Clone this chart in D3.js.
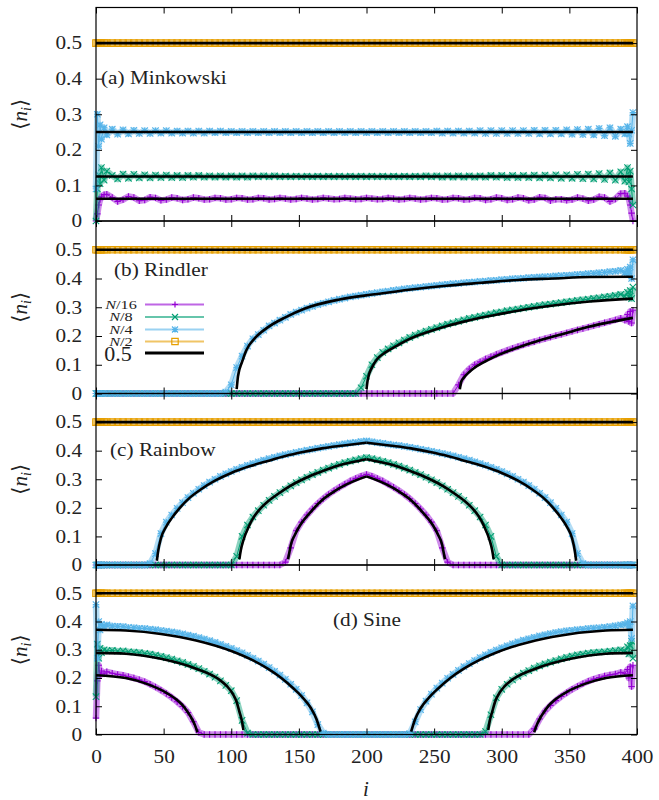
<!DOCTYPE html>
<html>
<head>
<meta charset="utf-8">
<script src="https://cdnjs.cloudflare.com/ajax/libs/d3/7.8.5/d3.min.js"></script>
<style>
body { margin: 0; background: #fff; }
svg text { font-family: "Liberation Serif", "DejaVu Serif", serif; fill: #222; }
</style>
</head>
<body>
<svg id="svg" width="659" height="800"></svg>
<script>
// site index i, sampled every 4 sites with the edges kept
var iGrid = [
  0, 1, 2, 3, 4, 6, 8, 12, 16, 20,
  24, 28, 32, 36, 40, 44, 48, 52, 56, 60,
  64, 68, 72, 76, 80, 84, 88, 92, 96, 100,
  104, 108, 112, 116, 120, 124, 128, 132, 136, 140,
  144, 148, 152, 156, 160, 164, 168, 172, 176, 180,
  184, 188, 192, 196, 200, 204, 208, 212, 216, 220,
  224, 228, 232, 236, 240, 244, 248, 252, 256, 260,
  264, 268, 272, 276, 280, 284, 288, 292, 296, 300,
  304, 308, 312, 316, 320, 324, 328, 332, 336, 340,
  344, 348, 352, 356, 360, 364, 368, 372, 376, 380,
  384, 388, 391, 393, 394, 395, 396, 397];

// N/2 is flat at one half in every panel
var nHalf = [
  0.5, 0.5, 0.5, 0.5, 0.5, 0.5, 0.5, 0.5, 0.5, 0.5,
  0.5, 0.5, 0.5, 0.5, 0.5, 0.5, 0.5, 0.5, 0.5, 0.5,
  0.5, 0.5, 0.5, 0.5, 0.5, 0.5, 0.5, 0.5, 0.5, 0.5,
  0.5, 0.5, 0.5, 0.5, 0.5, 0.5, 0.5, 0.5, 0.5, 0.5,
  0.5, 0.5, 0.5, 0.5, 0.5, 0.5, 0.5, 0.5, 0.5, 0.5,
  0.5, 0.5, 0.5, 0.5, 0.5, 0.5, 0.5, 0.5, 0.5, 0.5,
  0.5, 0.5, 0.5, 0.5, 0.5, 0.5, 0.5, 0.5, 0.5, 0.5,
  0.5, 0.5, 0.5, 0.5, 0.5, 0.5, 0.5, 0.5, 0.5, 0.5,
  0.5, 0.5, 0.5, 0.5, 0.5, 0.5, 0.5, 0.5, 0.5, 0.5,
  0.5, 0.5, 0.5, 0.5, 0.5, 0.5, 0.5, 0.5, 0.5, 0.5,
  0.5, 0.5, 0.5, 0.5, 0.5, 0.5, 0.5, 0.5];

// (a) minkowski
var mink16 = [
  0, 0.02, 0.045, 0.06, 0.068, 0.074, 0.075, 0.066, 0.055, 0.06,
  0.069, 0.066, 0.057, 0.059, 0.067, 0.065, 0.058, 0.06, 0.066, 0.064,
  0.059, 0.061, 0.066, 0.064, 0.06, 0.061, 0.065, 0.064, 0.06, 0.061,
  0.065, 0.064, 0.06, 0.061, 0.065, 0.064, 0.06, 0.062, 0.065, 0.063,
  0.06, 0.062, 0.065, 0.063, 0.06, 0.062, 0.065, 0.063, 0.061, 0.062,
  0.065, 0.063, 0.061, 0.062, 0.065, 0.063, 0.061, 0.062, 0.065, 0.063,
  0.06, 0.062, 0.065, 0.063, 0.06, 0.062, 0.065, 0.064, 0.06, 0.061,
  0.065, 0.064, 0.06, 0.061, 0.065, 0.064, 0.059, 0.061, 0.066, 0.064,
  0.059, 0.061, 0.066, 0.064, 0.058, 0.06, 0.067, 0.065, 0.057, 0.061,
  0.061, 0.058, 0.06, 0.066, 0.063, 0.057, 0.06, 0.068, 0.066, 0.055,
  0.062, 0.077, 0.078, 0.07, 0.062, 0.045, 0.022, 0];
var mink8 = [
  0, 0.09, 0.13, 0.105, 0.15, 0.115, 0.14, 0.128, 0.118, 0.132,
  0.12, 0.131, 0.121, 0.13, 0.121, 0.129, 0.122, 0.129, 0.122, 0.128,
  0.122, 0.128, 0.123, 0.128, 0.123, 0.127, 0.123, 0.127, 0.123, 0.127,
  0.123, 0.127, 0.123, 0.127, 0.124, 0.127, 0.124, 0.127, 0.124, 0.126,
  0.124, 0.126, 0.124, 0.126, 0.124, 0.126, 0.124, 0.126, 0.124, 0.126,
  0.124, 0.126, 0.124, 0.126, 0.124, 0.126, 0.124, 0.126, 0.124, 0.126,
  0.124, 0.126, 0.124, 0.126, 0.124, 0.127, 0.124, 0.127, 0.123, 0.127,
  0.123, 0.127, 0.123, 0.127, 0.123, 0.127, 0.123, 0.128, 0.123, 0.128,
  0.122, 0.128, 0.122, 0.128, 0.122, 0.129, 0.121, 0.129, 0.121, 0.13,
  0.12, 0.13, 0.12, 0.131, 0.119, 0.132, 0.118, 0.133, 0.117, 0.135,
  0.115, 0.138, 0.112, 0.15, 0.11, 0.14, 0.09, 0.045];
var mink4 = [
  0.09, 0.3, 0.21, 0.27, 0.23, 0.262, 0.242, 0.258, 0.244, 0.256,
  0.245, 0.255, 0.246, 0.254, 0.246, 0.254, 0.247, 0.254, 0.247, 0.253,
  0.247, 0.253, 0.247, 0.253, 0.247, 0.253, 0.248, 0.253, 0.248, 0.252,
  0.248, 0.252, 0.248, 0.252, 0.248, 0.252, 0.248, 0.252, 0.248, 0.252,
  0.248, 0.252, 0.248, 0.252, 0.248, 0.252, 0.248, 0.252, 0.248, 0.252,
  0.248, 0.252, 0.248, 0.252, 0.248, 0.252, 0.248, 0.252, 0.248, 0.252,
  0.248, 0.252, 0.248, 0.252, 0.248, 0.252, 0.248, 0.253, 0.247, 0.253,
  0.247, 0.253, 0.247, 0.253, 0.247, 0.254, 0.246, 0.254, 0.246, 0.254,
  0.246, 0.254, 0.246, 0.254, 0.246, 0.255, 0.245, 0.255, 0.245, 0.255,
  0.245, 0.256, 0.244, 0.257, 0.243, 0.258, 0.242, 0.26, 0.24, 0.262,
  0.238, 0.258, 0.245, 0.265, 0.245, 0.218, 0.255, 0.305];

// (b) rindler
var rind16 = [
  0, 0, 0, 0, 0, 0, 0, 0, 0, 0,
  0, 0, 0, 0, 0, 0, 0, 0, 0, 0,
  0, 0, 0, 0, 0, 0, 0, 0, 0, 0,
  0, 0, 0, 0, 0, 0, 0, 0, 0, 0,
  0, 0, 0, 0, 0, 0, 0, 0, 0, 0,
  0, 0, 0, 0, 0, 0, 0, 0, 0, 0,
  0, 0, 0, 0, 0, 0, 0, 0, 0, 0,
  0, 0.03, 0.065, 0.085, 0.1, 0.11, 0.12, 0.128, 0.136, 0.143,
  0.15, 0.157, 0.163, 0.169, 0.175, 0.18, 0.186, 0.191, 0.196, 0.201,
  0.206, 0.211, 0.216, 0.221, 0.226, 0.231, 0.236, 0.241, 0.246, 0.251,
  0.256, 0.262, 0.255, 0.275, 0.25, 0.285, 0.245, 0.29];
var rind8 = [
  0, 0, 0, 0, 0, 0, 0, 0, 0, 0,
  0, 0, 0, 0, 0, 0, 0, 0, 0, 0,
  0, 0, 0, 0, 0, 0, 0, 0, 0, 0,
  0, 0, 0, 0, 0, 0, 0, 0, 0, 0,
  0, 0, 0, 0, 0, 0, 0, 0, 0, 0,
  0, 0, 0, 0.02, 0.06, 0.1, 0.125, 0.143, 0.155, 0.166,
  0.176, 0.186, 0.195, 0.203, 0.21, 0.217, 0.223, 0.229, 0.235, 0.241,
  0.246, 0.251, 0.256, 0.261, 0.265, 0.269, 0.273, 0.277, 0.281, 0.284,
  0.288, 0.291, 0.294, 0.297, 0.3, 0.303, 0.306, 0.309, 0.311, 0.314,
  0.316, 0.319, 0.321, 0.324, 0.326, 0.328, 0.331, 0.333, 0.336, 0.338,
  0.341, 0.345, 0.338, 0.352, 0.335, 0.358, 0.33, 0.37];
var rind4 = [
  0, 0, 0, 0, 0, 0, 0, 0, 0, 0,
  0, 0, 0, 0, 0, 0, 0, 0, 0, 0,
  0, 0, 0, 0, 0, 0, 0, 0, 0.005, 0.03,
  0.09, 0.13, 0.165, 0.19, 0.205, 0.22, 0.235, 0.245, 0.255, 0.265,
  0.275, 0.283, 0.29, 0.297, 0.303, 0.309, 0.314, 0.319, 0.324, 0.328,
  0.332, 0.336, 0.339, 0.342, 0.345, 0.348, 0.351, 0.354, 0.356, 0.359,
  0.361, 0.364, 0.366, 0.368, 0.37, 0.372, 0.374, 0.376, 0.378, 0.38,
  0.382, 0.383, 0.385, 0.387, 0.388, 0.39, 0.391, 0.393, 0.394, 0.396,
  0.397, 0.399, 0.4, 0.401, 0.403, 0.404, 0.405, 0.406, 0.407, 0.409,
  0.41, 0.411, 0.412, 0.414, 0.415, 0.417, 0.418, 0.42, 0.421, 0.424,
  0.425, 0.428, 0.42, 0.432, 0.418, 0.44, 0.4, 0.465];

// (c) rainbow
var rain16 = [
  0, 0, 0, 0, 0, 0, 0, 0, 0, 0,
  0, 0, 0, 0, 0, 0, 0, 0, 0, 0,
  0, 0, 0, 0, 0, 0, 0, 0, 0, 0,
  0, 0, 0, 0, 0, 0, 0, 0, 0, 0.01,
  0.06, 0.12, 0.15, 0.175, 0.196, 0.215, 0.232, 0.247, 0.26, 0.272,
  0.283, 0.294, 0.303, 0.311, 0.317, 0.311, 0.303, 0.294, 0.283, 0.272,
  0.26, 0.247, 0.232, 0.215, 0.196, 0.175, 0.15, 0.12, 0.06, 0.01,
  0, 0, 0, 0, 0, 0, 0, 0, 0, 0,
  0, 0, 0, 0, 0, 0, 0, 0, 0, 0,
  0, 0, 0, 0, 0, 0, 0, 0, 0, 0,
  0, 0, 0, 0, 0, 0, 0, 0];
var rain8 = [
  0, 0, 0, 0, 0, 0, 0, 0, 0, 0,
  0, 0, 0, 0, 0, 0, 0, 0, 0, 0,
  0, 0, 0, 0, 0, 0, 0, 0, 0, 0,
  0.03, 0.1, 0.14, 0.168, 0.19, 0.209, 0.226, 0.24, 0.253, 0.265,
  0.277, 0.288, 0.298, 0.307, 0.316, 0.324, 0.332, 0.339, 0.346, 0.352,
  0.358, 0.363, 0.368, 0.372, 0.376, 0.372, 0.368, 0.363, 0.358, 0.352,
  0.346, 0.339, 0.332, 0.324, 0.316, 0.307, 0.298, 0.288, 0.277, 0.265,
  0.253, 0.24, 0.226, 0.209, 0.19, 0.168, 0.14, 0.1, 0.03, 0,
  0, 0, 0, 0, 0, 0, 0, 0, 0, 0,
  0, 0, 0, 0, 0, 0, 0, 0, 0, 0,
  0, 0, 0, 0, 0, 0, 0, 0];
var rain4 = [
  0, 0, 0, 0, 0, 0, 0, 0, 0, 0,
  0, 0, 0, 0, 0.005, 0.04, 0.11, 0.15, 0.175, 0.198,
  0.218, 0.236, 0.251, 0.265, 0.278, 0.29, 0.3, 0.31, 0.319, 0.327,
  0.335, 0.342, 0.349, 0.355, 0.361, 0.367, 0.372, 0.377, 0.382, 0.386,
  0.39, 0.394, 0.398, 0.402, 0.405, 0.409, 0.412, 0.415, 0.418, 0.421,
  0.424, 0.427, 0.429, 0.432, 0.434, 0.431, 0.428, 0.426, 0.423, 0.42,
  0.418, 0.415, 0.412, 0.409, 0.405, 0.402, 0.398, 0.394, 0.39, 0.386,
  0.382, 0.377, 0.372, 0.367, 0.361, 0.355, 0.349, 0.342, 0.335, 0.327,
  0.319, 0.31, 0.3, 0.29, 0.278, 0.265, 0.251, 0.236, 0.218, 0.198,
  0.175, 0.15, 0.11, 0.04, 0.005, 0, 0, 0, 0, 0,
  0, 0, 0, 0, 0, 0, 0, 0];

// (d) sine
var sine16 = [
  0.058, 0.19, 0.245, 0.21, 0.225, 0.215, 0.222, 0.217, 0.213, 0.21,
  0.205, 0.2, 0.194, 0.187, 0.178, 0.168, 0.157, 0.145, 0.131, 0.116,
  0.099, 0.078, 0.045, 0.008, 0, 0, 0, 0, 0, 0,
  0, 0, 0, 0, 0, 0, 0, 0, 0, 0,
  0, 0, 0, 0, 0, 0, 0, 0, 0, 0,
  0, 0, 0, 0, 0, 0, 0, 0, 0, 0,
  0, 0, 0, 0, 0, 0, 0, 0, 0, 0,
  0, 0, 0, 0, 0, 0, 0, 0, 0, 0,
  0, 0, 0, 0, 0, 0.02, 0.055, 0.083, 0.103, 0.12,
  0.135, 0.148, 0.16, 0.17, 0.18, 0.189, 0.196, 0.202, 0.207, 0.211,
  0.214, 0.22, 0.215, 0.23, 0.2, 0.24, 0.17, 0.245];
var sine8 = [
  0.134, 0.32, 0.27, 0.305, 0.29, 0.3, 0.296, 0.298, 0.295, 0.296,
  0.293, 0.292, 0.29, 0.287, 0.285, 0.281, 0.277, 0.272, 0.267, 0.261,
  0.255, 0.248, 0.241, 0.233, 0.224, 0.214, 0.203, 0.19, 0.174, 0.155,
  0.12, 0.05, 0.005, 0, 0, 0, 0, 0, 0, 0,
  0, 0, 0, 0, 0, 0, 0, 0, 0, 0,
  0, 0, 0, 0, 0, 0, 0, 0, 0, 0,
  0, 0, 0, 0, 0, 0, 0, 0, 0, 0,
  0, 0, 0, 0, 0, 0, 0.01, 0.07, 0.13, 0.16,
  0.178, 0.193, 0.206, 0.217, 0.226, 0.235, 0.243, 0.25, 0.256, 0.262,
  0.268, 0.273, 0.278, 0.282, 0.285, 0.288, 0.29, 0.292, 0.293, 0.295,
  0.297, 0.3, 0.295, 0.31, 0.285, 0.315, 0.33, 0.27];
var sine4 = [
  0.46, 0.27, 0.4, 0.37, 0.39, 0.382, 0.388, 0.384, 0.383, 0.382,
  0.379, 0.378, 0.376, 0.375, 0.373, 0.371, 0.368, 0.366, 0.363, 0.36,
  0.356, 0.352, 0.348, 0.343, 0.338, 0.332, 0.326, 0.319, 0.312, 0.305,
  0.297, 0.289, 0.28, 0.27, 0.26, 0.249, 0.237, 0.224, 0.21, 0.195,
  0.178, 0.16, 0.138, 0.112, 0.08, 0.035, 0.005, 0, 0, 0,
  0, 0, 0, 0, 0, 0, 0, 0, 0, 0,
  0, 0, 0.003, 0.045, 0.088, 0.118, 0.143, 0.164, 0.182, 0.199,
  0.213, 0.227, 0.24, 0.251, 0.262, 0.272, 0.282, 0.291, 0.299, 0.307,
  0.314, 0.321, 0.328, 0.334, 0.339, 0.344, 0.349, 0.353, 0.357, 0.361,
  0.364, 0.367, 0.369, 0.371, 0.373, 0.375, 0.377, 0.378, 0.38, 0.382,
  0.385, 0.388, 0.39, 0.395, 0.38, 0.4, 0.34, 0.455];

// black curves, as [i, value] segments
var thHalf = [[[0, 0.5], [397, 0.5]]];
var thMink16 = [[[0, 0.0625], [397, 0.0625]]];
var thMink8 = [[[0, 0.125], [397, 0.125]]];
var thMink4 = [[[0, 0.25], [397, 0.25]]];
var thRind16 = [[[269, 0.015], [270, 0.04], [272, 0.055], [276, 0.075], [280, 0.09], [290, 0.117], [299, 0.137],
  [312, 0.16], [325, 0.18], [338, 0.198], [352, 0.216], [365, 0.233], [380, 0.248], [397, 0.263]]];
var thRind8 = [[[200, 0.015], [201, 0.05], [204, 0.09], [208, 0.12], [214, 0.143], [222, 0.165], [233, 0.192],
  [246, 0.215], [259, 0.234], [272, 0.25], [285, 0.264], [298, 0.276], [312, 0.288], [338, 0.306], [365, 0.32], [397, 0.33]]];
var thRind4 = [[[104, 0.015], [105, 0.06], [108, 0.11], [111, 0.149], [118, 0.195], [127, 0.23], [140, 0.265],
  [154, 0.295], [180, 0.327], [206, 0.345], [233, 0.362], [259, 0.375], [285, 0.385], [312, 0.395], [338, 0.4],
  [365, 0.405], [397, 0.406]]];
var thRain16 = [
  [[142, 0.02], [143, 0.045], [144, 0.07], [147, 0.105], [151, 0.14], [159, 0.187], [169, 0.234], [177, 0.26],
   [185, 0.281], [192, 0.296], [200, 0.31]],
  [[200, 0.31], [208, 0.296], [215, 0.281], [223, 0.26], [231, 0.234], [241, 0.187], [249, 0.14], [253, 0.105],
   [256, 0.07], [257, 0.045], [258, 0.02]]];
var thRain8 = [
  [[106, 0.02], [107, 0.05], [109, 0.087], [113, 0.135], [117, 0.17], [122, 0.2], [127, 0.222], [135, 0.25],
   [143, 0.275], [153, 0.3], [164, 0.322], [180, 0.349], [190, 0.36], [200, 0.37]],
  [[200, 0.37], [210, 0.36], [220, 0.349], [236, 0.322], [247, 0.3], [257, 0.275], [265, 0.25], [273, 0.222],
   [278, 0.2], [283, 0.17], [287, 0.135], [291, 0.087], [293, 0.05], [294, 0.02]]];
var thRain4 = [
  [[45, 0.015], [46, 0.05], [48, 0.093], [52, 0.135], [56, 0.164], [62, 0.2], [69, 0.234], [78, 0.266], [88, 0.295],
   [100, 0.322], [114, 0.346], [127, 0.364], [140, 0.381], [153, 0.395], [167, 0.408], [183, 0.418], [200, 0.428]],
  [[200, 0.428], [217, 0.418], [233, 0.408], [247, 0.395], [260, 0.381], [273, 0.364], [286, 0.346], [300, 0.322],
   [312, 0.295], [322, 0.266], [331, 0.234], [338, 0.2], [344, 0.164], [348, 0.135], [352, 0.093], [354, 0.05], [355, 0.015]]];
var thSine16 = [
  [[0, 0.21], [22, 0.2], [37, 0.18], [53, 0.145], [60, 0.122], [64, 0.104], [67, 0.085], [70, 0.063], [73, 0.035], [75, 0.008]],
  [[324, 0.008], [326, 0.035], [329, 0.063], [332, 0.085], [335, 0.104], [339, 0.122], [346, 0.145], [362, 0.18], [377, 0.2], [397, 0.21]]];
var thSine8 = [
  [[0, 0.289], [22, 0.286], [48, 0.268], [74, 0.233], [90, 0.198], [97, 0.17], [101, 0.145], [104, 0.115], [106, 0.081], [108, 0.045], [109, 0.016]],
  [[290, 0.016], [291, 0.045], [293, 0.081], [295, 0.115], [298, 0.145], [302, 0.17], [309, 0.198], [325, 0.233], [351, 0.268], [377, 0.286], [397, 0.289]]];
var thSine4 = [
  [[0, 0.371], [22, 0.368], [48, 0.356], [74, 0.333], [101, 0.294], [115, 0.265], [127, 0.233], [137, 0.2], [146, 0.163],
   [153, 0.13], [159, 0.093], [163, 0.055], [166, 0.01]],
  [[233, 0.01], [236, 0.055], [240, 0.093], [246, 0.13], [253, 0.163], [262, 0.2], [272, 0.233], [284, 0.265], [298, 0.294],
   [325, 0.333], [351, 0.356], [377, 0.368], [397, 0.371]]];

var yTicks = [0, 0.1, 0.2, 0.3, 0.4, 0.5];
var xTicks = [0, 50, 100, 150, 200, 250, 300, 350, 400];
var keyNames = ["/16", "/8", "/4", "/2"];
var panelNames = ["(a) Minkowski", "(b) Rindler", "(c) Rainbow", "(d) Sine"];

var width = 659, height = 800;
var svg = d3.select('svg');

var colors = ["#9400d3", "#009e73", "#56b4e9", "#e69f00"];
var shapes = ["plus", "cross", "star", "box"];

var x = d3.scaleLinear().domain([0, 400]).range([96, 637]);

// gnuplot style point symbols
function symbol(shape, s) {
  var plus = "M" + (-s) + ",0H" + s + "M0," + (-s) + "V" + s;
  var cross = "M" + (-s) + "," + (-s) + "L" + s + "," + s + "M" + (-s) + "," + s + "L" + s + "," + (-s);
  if (shape == "plus") return plus;
  if (shape == "cross") return cross;
  if (shape == "star") return plus + cross;
  return "M" + (-s) + "," + (-s) + "H" + s + "V" + s + "H" + (-s) + "Z";
}

// the latex font is wider than what we have, stretch it
function widen(sel, k) {
  sel.each(function() {
    var w = this.getComputedTextLength();
    this.setAttribute("textLength", w * k);
    this.setAttribute("lengthAdjust", "spacingAndGlyphs");
  });
}

var panels = [
  {top: 7.5, bottom: 221, series: [mink16, mink8, mink4, nHalf], theory: [thMink16, thMink8, thMink4, thHalf], lx: 101, ly: 84},
  {top: 221, bottom: 393.5, series: [rind16, rind8, rind4, nHalf], theory: [thRind16, thRind8, thRind4, thHalf], lx: 114, ly: 276},
  {top: 393.5, bottom: 565, series: [rain16, rain8, rain4, nHalf], theory: [thRain16, thRain8, thRain4, thHalf], lx: 110, ly: 456},
  {top: 565, bottom: 734.5, series: [sine16, sine8, sine4, nHalf], theory: [thSine16, thSine8, thSine4, thHalf], lx: 333, ly: 626}
];

panels.forEach(function(p, k) {
  var y = d3.scaleLinear().domain([0, 0.6]).range([p.bottom, p.top]);
  var g = svg.append("g");
  var line = d3.line().x(function(d) { return x(d[0]); }).y(function(d) { return y(d[1]); });

  // data, drawn in gnuplot order
  p.series.forEach(function(vals, s) {
    var pts = iGrid.map(function(i, j) { return [i, vals[j]]; });
    g.append("path").attr("d", line(pts))
      .attr("fill", "none").attr("stroke", colors[s]).attr("stroke-width", 6.5)
      .attr("stroke-opacity", s == 3 ? 0.6 : 0.45).attr("stroke-linejoin", "round");
    g.append("path").attr("d", line(pts))
      .attr("fill", "none").attr("stroke", colors[s]).attr("stroke-width", 1);
    g.selectAll(null).data(pts).enter().append("path")
      .attr("transform", function(d) { return "translate(" + x(d[0]) + "," + y(d[1]) + ")"; })
      .attr("d", symbol(shapes[s], s == 3 ? 3.3 : 3.2))
      .attr("fill", "none").attr("stroke", colors[s]).attr("stroke-width", 1.1);
  });

  p.theory.forEach(function(segs) {
    segs.forEach(function(seg) {
      g.append("path").attr("d", line.curve(d3.curveMonotoneX)(seg))
        .attr("fill", "none").attr("stroke", "#000").attr("stroke-width", 2.6);
    });
  });
  line.curve(d3.curveLinear);

  // border and ticks on top
  g.append("rect").attr("x", x(0)).attr("y", p.top)
    .attr("width", x(400) - x(0)).attr("height", p.bottom - p.top)
    .attr("fill", "none").attr("stroke", "#000").attr("stroke-width", 1.2);

  var axes = [
    g.append("g").attr("transform", "translate(" + x(0) + ",0)")
      .call(d3.axisLeft(y).tickValues(yTicks).tickSize(-6).tickPadding(14).tickFormat(d3.format("~g"))),
    g.append("g").attr("transform", "translate(" + x(400) + ",0)")
      .call(d3.axisRight(y).tickValues(yTicks).tickSize(-6).tickFormat("")),
    g.append("g").attr("transform", "translate(0," + p.top + ")")
      .call(d3.axisTop(x).tickValues(xTicks).tickSize(-6).tickFormat("")),
    g.append("g").attr("transform", "translate(0," + p.bottom + ")")
      .call(d3.axisBottom(x).tickValues(xTicks).tickSize(-6).tickPadding(16).tickFormat(k == 3 ? d3.format("d") : ""))
  ];
  axes.forEach(function(a) {
    a.select(".domain").remove();
    a.attr("font-family", null).attr("font-size", null).style("color", "#000");
    a.selectAll("line").attr("stroke-width", 1);
    a.selectAll("text").style("font-size", "18px").attr("fill", "#222").call(widen, 1.18);
  });

  // <n_i>
  var yl = g.append("text")
    .attr("transform", "translate(27," + (p.top + p.bottom) / 2 + ") rotate(-90)")
    .attr("text-anchor", "middle").style("font-size", "21px");
  yl.append("tspan").text("\u27e8");
  yl.append("tspan").style("font-style", "italic").text("n");
  yl.append("tspan").style("font-style", "italic").style("font-size", "14px").attr("dy", 4).text("i");
  yl.append("tspan").attr("dy", -4).text("\u27e9");

  g.append("text").attr("x", p.lx).attr("y", p.ly)
    .style("font-size", "18px").text(panelNames[k]).call(widen, 1.18);
});

svg.append("text").attr("x", 366).attr("y", 796).attr("text-anchor", "middle")
  .style("font-size", "21px").style("font-style", "italic").text("i");

// key inside panel (b)
var keyY = [304.5, 317, 329.5, 341.5];
keyNames.forEach(function(name, s) {
  var t = svg.append("text").attr("x", 121).attr("y", keyY[s] + 4)
    .attr("text-anchor", "middle").style("font-size", "13px");
  t.append("tspan").style("font-style", "italic").text("N");
  t.append("tspan").text(name);
  widen(t, 1.25);
  svg.append("line").attr("x1", 145).attr("x2", 204).attr("y1", keyY[s]).attr("y2", keyY[s])
    .attr("stroke", colors[s]).attr("stroke-opacity", 0.6).attr("stroke-width", 2);
  svg.append("path").attr("transform", "translate(175," + keyY[s] + ")")
    .attr("d", symbol(shapes[s], s == 3 ? 3.2 : 3))
    .attr("fill", "none").attr("stroke", colors[s]).attr("stroke-width", 1.2);
});
svg.append("text").attr("x", 118).attr("y", 361).attr("text-anchor", "middle")
  .style("font-size", "22px").text("0.5");
svg.append("line").attr("x1", 145).attr("x2", 204).attr("y1", 353).attr("y2", 353)
  .attr("stroke", "#000").attr("stroke-width", 3);
</script>
</body>
</html>
